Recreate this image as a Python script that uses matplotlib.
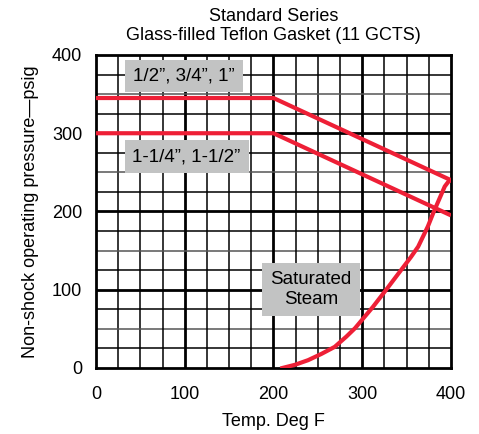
import numpy as np
import matplotlib
matplotlib.use("Agg")
import matplotlib.pyplot as plt

plt.rcParams['font.family'] = ['Liberation Sans', 'DejaVu Sans']

# rating lines (temp F, pressure psig)
small_temp = [0, 200, 400]
small_psig = [345, 345, 240]
large_temp = [0, 200, 400]
large_psig = [300, 300, 195]

# saturated steam curve
steam_temp = [210, 224, 239, 254, 269, 282, 292, 312, 327, 341, 355, 363, 374, 380, 388, 393, 397, 400]
steam_psig = [0, 4, 10, 18, 27, 40, 51, 78, 100, 121, 142, 155, 181, 198, 219, 232, 238, 240]

red = '#ee1f36'
box_grey = '#c2c3c3'

fig = plt.figure(figsize=(4.79, 4.34), dpi=100)
ax = fig.add_axes([0.2004, 0.1521, 0.7411, 0.7212])

ax.set_xlim(0, 400)
ax.set_ylim(0, 400)

# grid: 25 unit squares, heavy lines every 100
for v in np.arange(25, 400, 25):
    major = v % 100 == 0
    ax.axvline(v, color='black', lw=2.0 if major else 1.1, zorder=1)
    c = 'black' if major or v % 50 else '#555555'
    ax.axhline(v, color=c, lw=2.0 if major else 1.1, zorder=1)

for s in ax.spines.values():
    s.set_linewidth(2.0)

ax.set_xticks([0, 100, 200, 300, 400])
ax.set_yticks([0, 100, 200, 300, 400])
ax.tick_params(length=0, labelsize=13)
ax.tick_params(axis='x', pad=13)
ax.tick_params(axis='y', pad=10)

ax.plot(small_temp, small_psig, color=red, lw=3, zorder=3, solid_capstyle='butt')
ax.plot(large_temp, large_psig, color=red, lw=3, zorder=3, solid_capstyle='butt')
ax.plot(steam_temp, steam_psig, color=red, lw=3, zorder=3, solid_joinstyle='round')

bbox = dict(boxstyle='square,pad=0.42', fc=box_grey, ec='none')
ax.text(99, 373, '1/2”, 3/4”, 1”', ha='center', va='center', fontsize=13.5, bbox=bbox, zorder=4)
ax.text(102, 270, '1-1/4”, 1-1/2”', ha='center', va='center', fontsize=13.5, bbox=bbox, zorder=4)
ax.text(242, 100, 'Saturated\nSteam', ha='center', va='center', fontsize=13.5,
        linespacing=1.2, bbox=dict(boxstyle='square,pad=0.45', fc=box_grey, ec='none'), zorder=4)

ax.set_title('Standard Series\nGlass-filled Teflon Gasket (11 GCTS)', fontsize=13, pad=11, linespacing=1.15)
ax.set_xlabel('Temp. Deg F', fontsize=13, labelpad=7)
ax.set_ylabel('Non-shock operating pressure—psig', fontsize=13, labelpad=9)

fig.savefig('out.png', dpi=100)
